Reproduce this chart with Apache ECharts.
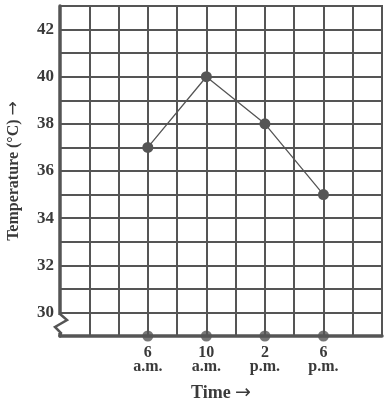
<!DOCTYPE html>
<html>
<head>
<meta charset="utf-8">
<script src="https://cdn.jsdelivr.net/npm/echarts@6/dist/echarts.min.js"></script>
<style>html,body{margin:0;padding:0;background:#fff}#c{width:388px;height:404px}</style>
</head>
<body>
<div id="c"></div>
<script>
// Data
var hours = [6, 10, 14, 18];
var tickLabels = {6: '6\na.m.', 10: '10\na.m.', 14: '2\np.m.', 18: '6\np.m.'};
var temperatures = [37, 40, 38, 35];
var yMin = 29, yMax = 43;
var xMin = 0, xMax = 22;

var ink = '#555';
var textInk = '#3a3a3a';
var font = '"Liberation Serif", "DejaVu Serif", serif';

var chart = echarts.init(document.getElementById('c'));
var lineData = hours.map(function (h, i) { return [h, temperatures[i]]; });
var axisDots = hours.map(function (h) { return [h, yMin]; });

chart.setOption({
  animation: false,
  grid: { left: 60, right: 6, top: 6, bottom: 68, show: true, borderColor: ink, borderWidth: 2, outerBoundsMode: 'none', containLabel: false },
  xAxis: {
    type: 'value', min: xMin, max: xMax, interval: 2,
    axisLine: { show: true, onZero: false, lineStyle: { color: ink, width: 3.5 } },
    axisTick: { show: false },
    splitLine: { show: true, lineStyle: { color: ink, width: 2 } },
    axisLabel: {
      margin: 10, color: textInk, fontFamily: font, fontWeight: 'bold', fontSize: 16, lineHeight: 14,
      formatter: function (v) { return tickLabels[v] || ''; }
    },
    name: 'Time {a|→}', nameLocation: 'middle', nameGap: 48,
    nameTextStyle: { color: textInk, fontFamily: font, fontWeight: 'bold', fontSize: 18,
      rich: { a: { fontFamily: '"DejaVu Sans"', fontSize: 19, fontWeight: 'normal', color: textInk } } }
  },
  yAxis: {
    type: 'value', min: yMin, max: yMax, interval: 1,
    axisLine: { show: true, onZero: false, lineStyle: { color: ink, width: 3.5 } },
    axisTick: { show: false },
    splitLine: { show: true, lineStyle: { color: ink, width: 2 } },
    axisLabel: {
      margin: 6, color: textInk, fontFamily: font, fontWeight: 'bold', fontSize: 17,
      formatter: function (v) { return (v % 2 === 0 && v > yMin && v < yMax) ? String(v) : ''; }
    },
    name: 'Temperature (°C) {a|→}', nameLocation: 'middle', nameGap: 38,
    nameTextStyle: { color: textInk, fontFamily: font, fontWeight: 'bold', fontSize: 16,
      rich: { a: { fontFamily: '"DejaVu Sans"', fontSize: 17, fontWeight: 'normal', color: textInk } } }
  },
  series: [
    {
      type: 'line', data: lineData, symbol: 'circle', symbolSize: 11,
      lineStyle: { color: ink, width: 1.3 }, itemStyle: { color: ink }, z: 5
    },
    {
      type: 'scatter', data: axisDots, symbol: 'circle', symbolSize: 11,
      itemStyle: { color: ink }, clip: false, z: 6
    }
  ]
});

// Axis break (zigzag) near the bottom of the y-axis
var p0 = chart.convertToPixel({ gridIndex: 0 }, [xMin, yMin]);
var x0 = p0[0], yb = p0[1];
chart.setOption({
  graphic: [
    { type: 'rect', shape: { x: x0 - 3, y: yb - 21, width: 5, height: 18 }, style: { fill: '#fff' }, z: 100 },
    { type: 'polyline', shape: { points: [[x0, yb - 22], [x0 + 7, yb - 16], [x0 - 5, yb - 9], [x0 + 1, yb - 3], [x0, yb]] },
      style: { stroke: ink, lineWidth: 2.5, fill: null }, z: 101 }
  ]
});
</script>
</body>
</html>
